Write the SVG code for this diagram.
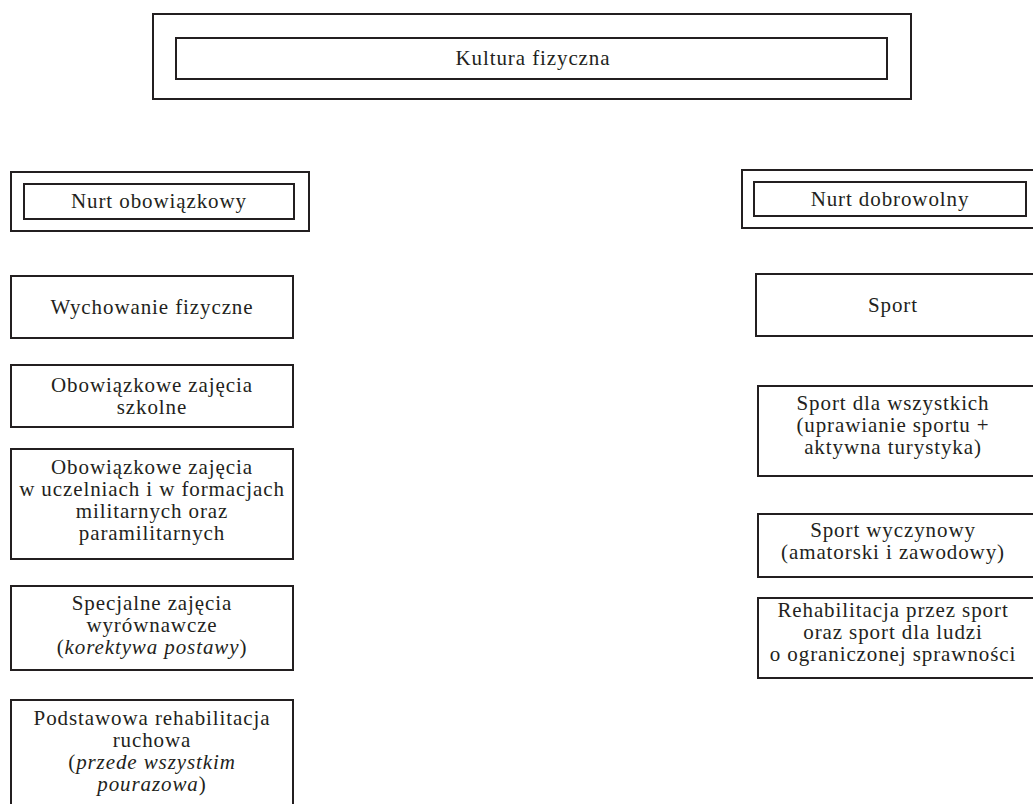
<svg xmlns="http://www.w3.org/2000/svg" width="1033" height="804" viewBox="0 0 1033 804">
<style>
.b{fill:#fff;stroke:#231f20;stroke-width:2}
.t{font-family:"Liberation Serif","Times New Roman",serif;font-size:21px;letter-spacing:0.9px;fill:#231f20;text-anchor:middle}
.i{font-style:italic}
</style>
<rect width="1033" height="804" fill="#fff"/>
<g id="connectors"></g>
<g id="kultura">
<rect class="b" x="153" y="14" width="758" height="85"/>
<rect class="b" x="176" y="38" width="711" height="41"/>
<text class="t" x="533" y="65">Kultura fizyczna</text>
</g>
<g id="nurt-obowiazkowy">
<rect class="b" x="11" y="172" width="298" height="59"/>
<rect class="b" x="24" y="184" width="270" height="35"/>
<text class="t" x="159" y="208">Nurt obowiązkowy</text>
</g>
<g id="wychowanie">
<rect class="b" x="11" y="276" width="282" height="62"/>
<text class="t" x="152" y="314">Wychowanie fizyczne</text>
</g>
<g id="szkolne">
<rect class="b" x="11" y="365" width="282" height="62"/>
<text class="t" x="152" y="392">Obowiązkowe zajęcia</text>
<text class="t" x="152" y="414">szkolne</text>
</g>
<g id="uczelnie">
<rect class="b" x="11" y="449" width="282" height="110"/>
<text class="t" x="152" y="474">Obowiązkowe zajęcia</text>
<text class="t" x="152" y="496">w uczelniach i w formacjach</text>
<text class="t" x="152" y="518">militarnych oraz</text>
<text class="t" x="152" y="540">paramilitarnych</text>
</g>
<g id="specjalne">
<rect class="b" x="11" y="586" width="282" height="84"/>
<text class="t" x="152" y="610">Specjalne zajęcia</text>
<text class="t" x="152" y="632">wyrównawcze</text>
<text class="t" x="152" y="654">(<tspan class="i">korektywa postawy</tspan>)</text>
</g>
<g id="podstawowa">
<rect class="b" x="11" y="700" width="282" height="120"/>
<text class="t" x="152" y="725">Podstawowa rehabilitacja</text>
<text class="t" x="152" y="747">ruchowa</text>
<text class="t" x="152" y="769">(<tspan class="i">przede wszystkim</tspan></text>
<text class="t" x="152" y="791"><tspan class="i">pourazowa</tspan>)</text>
</g>
<g id="nurt-dobrowolny">
<rect class="b" x="742" y="170" width="310" height="58"/>
<rect class="b" x="754" y="182" width="272" height="34"/>
<text class="t" x="890" y="206">Nurt dobrowolny</text>
</g>
<g id="sport">
<rect class="b" x="756" y="274" width="290" height="62"/>
<text class="t" x="893" y="312">Sport</text>
</g>
<g id="sport-dla-wszystkich">
<rect class="b" x="758" y="386" width="290" height="90"/>
<text class="t" x="893" y="410">Sport dla wszystkich</text>
<text class="t" x="893" y="432">(uprawianie sportu +</text>
<text class="t" x="893" y="454">aktywna turystyka)</text>
</g>
<g id="sport-wyczynowy">
<rect class="b" x="758" y="514" width="290" height="63"/>
<text class="t" x="893" y="537">Sport wyczynowy</text>
<text class="t" x="893" y="559">(amatorski i zawodowy)</text>
</g>
<g id="rehabilitacja">
<rect class="b" x="758" y="598" width="290" height="80"/>
<text class="t" x="893" y="617">Rehabilitacja przez sport</text>
<text class="t" x="893" y="639">oraz sport dla ludzi</text>
<text class="t" x="893" y="661">o ograniczonej sprawności</text>
</g>
</svg>
